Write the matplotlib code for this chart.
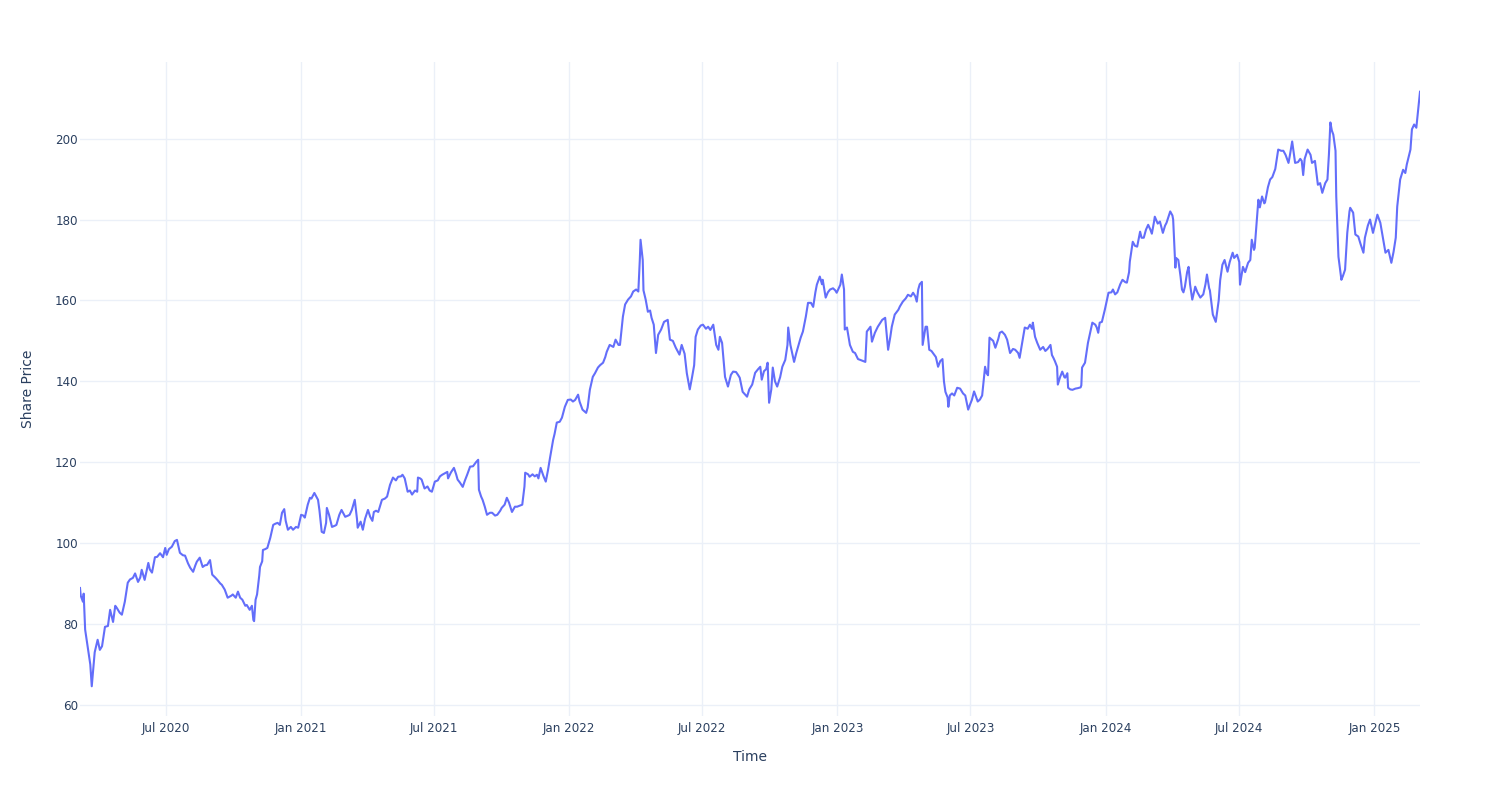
import pandas as pd
import matplotlib.pyplot as plt

# share price readings, one block per year (date, price)
dates_2020 = [
    "2020-03-06", "2020-03-07", "2020-03-10", "2020-03-11", "2020-03-13", "2020-03-17", "2020-03-20",
    "2020-03-22", "2020-03-26", "2020-03-30", "2020-04-02", "2020-04-05", "2020-04-09", "2020-04-13",
    "2020-04-16", "2020-04-20", "2020-04-23", "2020-04-25", "2020-04-29", "2020-05-02", "2020-05-06",
    "2020-05-10", "2020-05-13", "2020-05-17", "2020-05-20", "2020-05-24", "2020-05-27", "2020-05-29",
    "2020-06-02", "2020-06-07", "2020-06-09", "2020-06-12", "2020-06-16", "2020-06-19", "2020-06-23",
    "2020-06-27", "2020-06-30", "2020-07-02", "2020-07-05", "2020-07-09", "2020-07-13", "2020-07-16",
    "2020-07-20", "2020-07-24", "2020-07-27", "2020-07-31", "2020-08-03", "2020-08-07", "2020-08-10",
    "2020-08-12", "2020-08-16", "2020-08-20", "2020-08-23", "2020-08-26", "2020-08-30", "2020-09-02",
    "2020-09-06", "2020-09-09", "2020-09-13", "2020-09-15", "2020-09-19", "2020-09-23", "2020-09-28",
    "2020-09-30", "2020-10-04", "2020-10-07", "2020-10-10", "2020-10-13", "2020-10-17", "2020-10-19",
    "2020-10-23", "2020-10-26", "2020-10-28", "2020-10-29", "2020-10-31", "2020-11-02", "2020-11-05",
    "2020-11-06", "2020-11-09", "2020-11-10", "2020-11-13", "2020-11-16", "2020-11-20", "2020-11-24",
    "2020-11-27", "2020-11-30", "2020-12-03", "2020-12-06", "2020-12-09", "2020-12-11", "2020-12-14",
    "2020-12-18", "2020-12-21", "2020-12-25", "2020-12-28",
]
prices_2020 = [
    88.9, 87.0, 85.5, 87.5, 78.6, 73.6, 70.0,
    64.6, 73.0, 76.1, 73.6, 74.5, 79.3, 79.5,
    83.5, 80.5, 84.5, 84.0, 82.8, 82.3, 85.5,
    90.2, 91.0, 91.4, 92.5, 90.4, 91.5, 93.4,
    90.9, 95.1, 93.5, 92.7, 96.5, 96.6, 97.5,
    96.5, 98.8, 97.1, 98.5, 99.1, 100.5, 100.8,
    97.6, 97.0, 96.9, 95.0, 93.9, 92.9, 94.5,
    95.4, 96.4, 94.1, 94.5, 94.6, 95.8, 92.2,
    91.5, 90.9, 90.0, 89.7, 88.5, 86.5, 87.0,
    87.3, 86.5, 88.0, 86.5, 86.0, 84.5, 84.7,
    83.5, 84.5, 81.0, 80.7, 86.0, 87.3, 92.0,
    94.1, 95.5, 98.3, 98.5, 98.8, 101.3, 104.5,
    104.8, 105.0, 104.5, 107.5, 108.4, 105.5, 103.3,
    104.0, 103.3, 104.0, 103.8,
]

dates_2021 = [
    "2021-01-01", "2021-01-04", "2021-01-06", "2021-01-10", "2021-01-13", "2021-01-15", "2021-01-19",
    "2021-01-24", "2021-01-26", "2021-01-29", "2021-02-01", "2021-02-04", "2021-02-05", "2021-02-08",
    "2021-02-12", "2021-02-16", "2021-02-18", "2021-02-22", "2021-02-25", "2021-03-02", "2021-03-06",
    "2021-03-08", "2021-03-11", "2021-03-15", "2021-03-18", "2021-03-19", "2021-03-23", "2021-03-26",
    "2021-03-29", "2021-04-02", "2021-04-05", "2021-04-08", "2021-04-10", "2021-04-13", "2021-04-16",
    "2021-04-19", "2021-04-21", "2021-04-25", "2021-04-28", "2021-04-30", "2021-05-02", "2021-05-06",
    "2021-05-10", "2021-05-13", "2021-05-17", "2021-05-19", "2021-05-22", "2021-05-26", "2021-05-29",
    "2021-06-01", "2021-06-05", "2021-06-08", "2021-06-09", "2021-06-12", "2021-06-14", "2021-06-18",
    "2021-06-22", "2021-06-25", "2021-06-28", "2021-07-02", "2021-07-06", "2021-07-09", "2021-07-12",
    "2021-07-16", "2021-07-19", "2021-07-20", "2021-07-24", "2021-07-28", "2021-07-31", "2021-08-02",
    "2021-08-05", "2021-08-09", "2021-08-12", "2021-08-15", "2021-08-19", "2021-08-23", "2021-08-27",
    "2021-08-30", "2021-08-31", "2021-09-03", "2021-09-05", "2021-09-08", "2021-09-11", "2021-09-15",
    "2021-09-18", "2021-09-22", "2021-09-25", "2021-09-29", "2021-10-01", "2021-10-05", "2021-10-08",
    "2021-10-11", "2021-10-15", "2021-10-19", "2021-10-22", "2021-10-26", "2021-10-29", "2021-11-01",
    "2021-11-02", "2021-11-06", "2021-11-08", "2021-11-12", "2021-11-15", "2021-11-18", "2021-11-20",
    "2021-11-23", "2021-11-27", "2021-11-30", "2021-12-03", "2021-12-06", "2021-12-10", "2021-12-12",
    "2021-12-15", "2021-12-19", "2021-12-22", "2021-12-26", "2021-12-30",
]
prices_2021 = [
    107.0, 106.8, 106.3, 109.5, 111.2, 111.0, 112.4,
    110.7, 108.0, 102.8, 102.5, 105.0, 108.7, 107.0,
    104.0, 104.3, 104.5, 107.0, 108.2, 106.5, 106.8,
    107.0, 108.2, 110.7, 106.0, 103.8, 105.3, 103.3,
    106.0, 108.2, 106.5, 105.5, 107.7, 108.0, 107.7,
    109.5, 110.7, 111.0, 111.5, 113.0, 114.4, 116.2,
    115.5, 116.4, 116.5, 116.9, 116.0, 112.7, 113.0,
    112.0, 113.0, 112.7, 116.2, 116.0, 115.7, 113.5,
    114.0, 113.0, 112.7, 115.2, 115.5, 116.5, 116.9,
    117.3, 117.6, 116.0, 117.5, 118.6, 117.0, 115.7,
    115.0, 113.9, 115.5, 116.9, 118.9, 119.0, 120.0,
    120.6, 113.2, 111.5, 110.7, 109.0, 107.0, 107.5,
    107.5, 106.8, 107.0, 108.0, 108.7, 109.5, 111.2,
    110.0, 107.7, 109.0, 109.0, 109.3, 109.5, 114.0,
    117.4, 117.0, 116.4, 117.0, 116.5, 116.9, 116.0,
    118.6, 116.5, 115.2, 118.0, 121.3, 125.5, 127.0,
    129.8, 130.0, 131.0, 133.7, 135.4,
]

dates_2022 = [
    "2022-01-03", "2022-01-06", "2022-01-09", "2022-01-13", "2022-01-15", "2022-01-19", "2022-01-24",
    "2022-01-26", "2022-01-29", "2022-02-02", "2022-02-05", "2022-02-09", "2022-02-12", "2022-02-16",
    "2022-02-19", "2022-02-21", "2022-02-25", "2022-03-02", "2022-03-05", "2022-03-09", "2022-03-11",
    "2022-03-15", "2022-03-18", "2022-03-22", "2022-03-26", "2022-03-29", "2022-04-02", "2022-04-05",
    "2022-04-07", "2022-04-08", "2022-04-11", "2022-04-12", "2022-04-15", "2022-04-18", "2022-04-21",
    "2022-04-23", "2022-04-26", "2022-04-29", "2022-05-02", "2022-05-06", "2022-05-10", "2022-05-15",
    "2022-05-18", "2022-05-22", "2022-05-26", "2022-05-31", "2022-06-03", "2022-06-07", "2022-06-10",
    "2022-06-14", "2022-06-17", "2022-06-20", "2022-06-22", "2022-06-25", "2022-06-29", "2022-07-02",
    "2022-07-06", "2022-07-09", "2022-07-12", "2022-07-16", "2022-07-20", "2022-07-23", "2022-07-25",
    "2022-07-28", "2022-08-01", "2022-08-05", "2022-08-09", "2022-08-12", "2022-08-16", "2022-08-19",
    "2022-08-21", "2022-08-25", "2022-08-31", "2022-09-03", "2022-09-07", "2022-09-11", "2022-09-15",
    "2022-09-18", "2022-09-20", "2022-09-23", "2022-09-26", "2022-09-28", "2022-09-30", "2022-10-03",
    "2022-10-05", "2022-10-08", "2022-10-11", "2022-10-15", "2022-10-18", "2022-10-22", "2022-10-25",
    "2022-10-26", "2022-10-29", "2022-10-31", "2022-11-03", "2022-11-06", "2022-11-08", "2022-11-12",
    "2022-11-15", "2022-11-19", "2022-11-22", "2022-11-26", "2022-11-29", "2022-12-02", "2022-12-04",
    "2022-12-08", "2022-12-11", "2022-12-12", "2022-12-16", "2022-12-19", "2022-12-22", "2022-12-26",
    "2022-12-29", "2022-12-31",
]
prices_2022 = [
    135.5, 135.0, 135.4, 136.7, 135.0, 133.0, 132.2,
    133.5, 137.9, 141.1, 142.0, 143.4, 144.0, 144.6,
    146.0, 147.3, 149.0, 148.5, 150.3, 149.0, 149.0,
    156.0, 159.0, 160.2, 161.0, 162.2, 162.7, 162.2,
    170.0, 175.0, 170.0, 162.5, 160.2, 157.2, 157.5,
    155.7, 154.0, 147.0, 151.5, 152.8, 154.7, 155.2,
    150.3, 150.0, 148.3, 146.6, 149.0, 146.8, 142.0,
    138.0, 140.9, 144.0, 151.0, 152.8, 153.8, 154.0,
    153.0, 153.5, 152.7, 154.0, 149.0, 147.8, 151.0,
    149.5, 141.1, 138.7, 141.6, 142.4, 142.3, 141.5,
    140.9, 137.4, 136.2, 138.0, 139.2, 142.1, 143.0,
    143.6, 140.4, 142.5, 143.0, 144.6, 134.7, 138.0,
    143.4, 140.0, 138.7, 141.0, 143.6, 145.3, 149.0,
    153.3, 149.0, 147.3, 144.8, 147.0, 148.3, 150.8,
    152.3, 156.0, 159.4, 159.4, 158.4, 162.0, 163.9,
    165.9, 164.0, 165.1, 160.7, 162.0, 162.7, 163.0,
    162.5, 161.9,
]

dates_2023 = [
    "2023-01-05", "2023-01-07", "2023-01-10", "2023-01-11", "2023-01-14", "2023-01-18", "2023-01-22",
    "2023-01-25", "2023-01-29", "2023-02-01", "2023-02-05", "2023-02-08", "2023-02-10", "2023-02-15",
    "2023-02-17", "2023-02-21", "2023-02-25", "2023-03-03", "2023-03-07", "2023-03-11", "2023-03-14",
    "2023-03-16", "2023-03-20", "2023-03-25", "2023-03-27", "2023-03-31", "2023-04-04", "2023-04-07",
    "2023-04-11", "2023-04-14", "2023-04-17", "2023-04-19", "2023-04-21", "2023-04-23", "2023-04-26",
    "2023-04-27", "2023-05-01", "2023-05-03", "2023-05-06", "2023-05-09", "2023-05-11", "2023-05-15",
    "2023-05-18", "2023-05-21", "2023-05-24", "2023-05-26", "2023-05-28", "2023-05-31", "2023-06-01",
    "2023-06-03", "2023-06-06", "2023-06-09", "2023-06-13", "2023-06-17", "2023-06-21", "2023-06-24",
    "2023-06-28", "2023-07-01", "2023-07-03", "2023-07-06", "2023-07-09", "2023-07-11", "2023-07-14",
    "2023-07-17", "2023-07-19", "2023-07-21", "2023-07-23", "2023-07-25", "2023-07-27", "2023-08-01",
    "2023-08-04", "2023-08-08", "2023-08-10", "2023-08-13", "2023-08-17", "2023-08-20", "2023-08-24",
    "2023-08-28", "2023-08-31", "2023-09-04", "2023-09-06", "2023-09-09", "2023-09-13", "2023-09-17",
    "2023-09-20", "2023-09-23", "2023-09-24", "2023-09-27", "2023-09-30", "2023-10-04", "2023-10-08",
    "2023-10-11", "2023-10-14", "2023-10-18", "2023-10-20", "2023-10-22", "2023-10-24", "2023-10-27",
    "2023-10-28", "2023-10-31", "2023-11-03", "2023-11-06", "2023-11-07", "2023-11-10", "2023-11-11",
    "2023-11-14", "2023-11-17", "2023-11-21", "2023-11-24", "2023-11-28", "2023-11-29", "2023-11-30",
    "2023-12-04", "2023-12-08", "2023-12-11", "2023-12-14", "2023-12-18", "2023-12-20", "2023-12-22",
    "2023-12-24", "2023-12-27", "2023-12-31",
]
prices_2023 = [
    163.9, 166.4, 162.7, 152.8, 153.3, 149.0, 147.3,
    147.0, 145.5, 145.3, 145.0, 144.8, 152.3, 153.5,
    149.8, 152.0, 153.5, 155.2, 155.7, 147.8, 151.0,
    153.5, 156.5, 157.7, 158.5, 159.7, 160.5, 161.4,
    161.0, 161.9, 161.0, 159.7, 162.7, 164.0, 164.6,
    149.0, 153.5, 153.5, 147.8, 147.5, 147.0, 146.0,
    143.6, 145.0, 145.5, 140.0, 137.4, 136.0, 133.7,
    136.5, 137.0, 136.5, 138.4, 138.2, 137.0, 136.5,
    133.0, 134.5, 135.4, 137.5, 136.0, 135.0, 135.5,
    136.5, 140.0, 143.6, 142.0, 141.5, 150.8, 150.0,
    148.3, 150.5, 152.0, 152.3, 151.5, 150.3, 147.0,
    148.0, 147.8, 147.0, 145.8, 149.0, 153.3, 153.0,
    154.0, 153.0, 154.5, 151.0, 149.5, 147.8, 148.5,
    147.5, 148.0, 149.0, 146.5, 145.8, 145.0, 143.6,
    139.2, 141.0, 142.4, 141.0, 140.9, 142.0, 138.4,
    138.0, 137.9, 138.2, 138.3, 138.5, 139.0, 143.4,
    144.6, 149.5, 152.0, 154.5, 154.0, 153.3, 152.0,
    154.5, 154.7, 157.7,
]

dates_2024 = [
    "2024-01-05", "2024-01-09", "2024-01-11", "2024-01-14", "2024-01-17", "2024-01-21", "2024-01-24",
    "2024-01-28", "2024-01-30", "2024-02-02", "2024-02-03", "2024-02-07", "2024-02-10", "2024-02-13",
    "2024-02-17", "2024-02-19", "2024-02-22", "2024-02-25", "2024-02-28", "2024-03-02", "2024-03-04",
    "2024-03-07", "2024-03-08", "2024-03-12", "2024-03-15", "2024-03-19", "2024-03-22", "2024-03-24",
    "2024-03-29", "2024-04-01", "2024-04-02", "2024-04-05", "2024-04-06", "2024-04-09", "2024-04-12",
    "2024-04-14", "2024-04-16", "2024-04-18", "2024-04-21", "2024-04-23", "2024-04-25", "2024-04-28",
    "2024-05-01", "2024-05-02", "2024-05-05", "2024-05-09", "2024-05-13", "2024-05-16", "2024-05-18",
    "2024-05-21", "2024-05-22", "2024-05-26", "2024-05-30", "2024-06-03", "2024-06-05", "2024-06-08",
    "2024-06-11", "2024-06-15", "2024-06-18", "2024-06-22", "2024-06-24", "2024-06-28", "2024-07-01",
    "2024-07-02", "2024-07-06", "2024-07-09", "2024-07-13", "2024-07-16", "2024-07-18", "2024-07-21",
    "2024-07-22", "2024-07-25", "2024-07-27", "2024-07-29", "2024-08-01", "2024-08-04", "2024-08-05",
    "2024-08-09", "2024-08-12", "2024-08-15", "2024-08-19", "2024-08-23", "2024-08-27", "2024-08-30",
    "2024-09-02", "2024-09-06", "2024-09-08", "2024-09-11", "2024-09-15", "2024-09-19", "2024-09-22",
    "2024-09-24", "2024-09-26", "2024-09-28", "2024-10-02", "2024-10-06", "2024-10-08", "2024-10-12",
    "2024-10-16", "2024-10-19", "2024-10-22", "2024-10-26", "2024-10-29", "2024-10-31", "2024-11-02",
    "2024-11-04", "2024-11-06", "2024-11-09", "2024-11-10", "2024-11-13", "2024-11-17", "2024-11-19",
    "2024-11-22", "2024-11-25", "2024-11-28", "2024-11-29", "2024-12-03", "2024-12-06", "2024-12-10",
    "2024-12-13", "2024-12-17", "2024-12-19", "2024-12-23", "2024-12-26", "2024-12-30",
]
prices_2024 = [
    161.9, 162.0, 162.7, 161.5, 162.0, 164.0, 165.1,
    164.5, 164.4, 167.0, 169.6, 174.5, 173.5, 173.3,
    177.0, 175.5, 175.5, 177.5, 178.7, 177.5, 176.5,
    179.5, 180.7, 179.0, 179.5, 176.7, 178.5, 179.2,
    182.0, 181.0, 180.0, 168.1, 170.5, 170.0, 166.0,
    162.7, 162.0, 163.4, 167.0, 168.3, 164.0, 160.2,
    162.5, 163.4, 162.0, 160.7, 161.5, 164.0, 166.4,
    163.0, 162.5, 156.5, 154.7, 160.0, 165.0, 168.8,
    170.0, 167.1, 169.5, 171.8, 170.5, 171.3, 169.5,
    163.9, 168.3, 167.0, 169.3, 170.0, 175.0, 172.5,
    173.0, 180.0, 184.9, 183.0, 185.7, 184.0, 184.2,
    188.0, 189.9, 190.5, 192.5, 197.3, 197.0, 197.0,
    196.0, 194.0, 196.0, 199.3, 194.0, 194.2, 195.0,
    194.5, 191.0, 195.0, 197.3, 196.0, 194.0, 194.5,
    188.6, 189.0, 186.6, 189.0, 189.9, 196.0, 204.0,
    202.0, 201.0, 197.0, 185.7, 170.8, 165.1, 166.0,
    167.6, 176.7, 182.0, 182.9, 181.7, 176.3, 175.8,
    174.0, 171.8, 175.5, 178.5, 180.0, 176.7,
]

dates_2025 = [
    "2025-01-02", "2025-01-05", "2025-01-09", "2025-01-13", "2025-01-16", "2025-01-20", "2025-01-24",
    "2025-01-27", "2025-01-30", "2025-02-01", "2025-02-05", "2025-02-09", "2025-02-12", "2025-02-14",
    "2025-02-19", "2025-02-21", "2025-02-24", "2025-02-27", "2025-03-02", "2025-03-04",
]
prices_2025 = [
    179.0, 181.2, 179.2, 175.0, 171.8, 172.5, 169.3,
    172.0, 175.5, 183.2, 189.9, 192.3, 191.5, 193.6,
    197.3, 202.3, 203.5, 202.7, 208.0, 211.6,
]

tick_dates = ["2020-07-01", "2021-01-01", "2021-07-01", "2022-01-01", "2022-07-01",
              "2023-01-01", "2023-07-01", "2024-01-01", "2024-07-01", "2025-01-01"]
tick_labels = ["Jul 2020", "Jan 2021", "Jul 2021", "Jan 2022", "Jul 2022",
               "Jan 2023", "Jul 2023", "Jan 2024", "Jul 2024", "Jan 2025"]
y_ticks = [60, 80, 100, 120, 140, 160, 180, 200]

df = pd.DataFrame({
    "date": pd.to_datetime(dates_2020 + dates_2021 + dates_2022 + dates_2023 + dates_2024 + dates_2025),
    "price": prices_2020 + prices_2021 + prices_2022 + prices_2023 + prices_2024 + prices_2025,
})

LINE = "#636EFA"
GRID = "#EBF0F8"
TEXT = "#2A3F5F"

plt.rcParams["font.family"] = ["DejaVu Sans"]

fig = plt.figure(figsize=(15, 8), dpi=100)
ax = fig.add_axes([80 / 1500, 1 - 716 / 800, 1340 / 1500, 654 / 800])

ax.plot(df["date"], df["price"], color=LINE, linewidth=1.5)

ax.set_xlim(df["date"].min(), df["date"].max())
pad = (df["price"].max() - df["price"].min()) * 0.05
ax.set_ylim(df["price"].min() - pad, df["price"].max() + pad)

ax.set_xticks(pd.to_datetime(tick_dates))
ax.set_xticklabels(tick_labels)
ax.set_yticks(y_ticks)

ax.grid(True, color=GRID, linewidth=1)
ax.set_axisbelow(True)
for s in ax.spines.values():
    s.set_visible(False)
ax.tick_params(axis="both", length=0, labelsize=8.6, colors=TEXT)
ax.tick_params(axis="x", pad=4)
ax.tick_params(axis="y", pad=1.5)

ax.set_xlabel("Time", fontsize=10, color=TEXT, labelpad=11)
ax.set_ylabel("Share Price", fontsize=10, color=TEXT, labelpad=14.5)

fig.savefig("out.png", dpi=100, facecolor="white")
